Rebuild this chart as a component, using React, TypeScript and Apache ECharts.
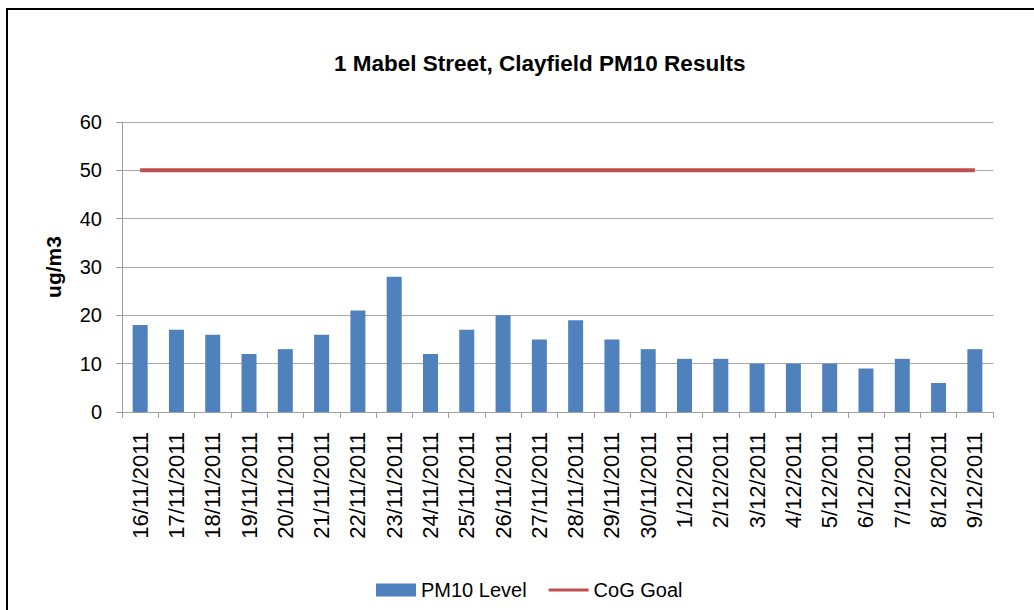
import React, { useEffect, useRef } from "react";
import * as echarts from "echarts";

const categories = [
  "16/11/2011", "17/11/2011", "18/11/2011", "19/11/2011", "20/11/2011", "21/11/2011",
  "22/11/2011", "23/11/2011", "24/11/2011", "25/11/2011", "26/11/2011", "27/11/2011",
  "28/11/2011", "29/11/2011", "30/11/2011", "1/12/2011", "2/12/2011", "3/12/2011",
  "4/12/2011", "5/12/2011", "6/12/2011", "7/12/2011", "8/12/2011", "9/12/2011",
];
const pm10Level = [18, 17, 16, 12, 13, 16, 21, 28, 12, 17, 20, 15, 19, 15, 13, 11, 11, 10, 10, 10, 9, 11, 6, 13];
const cogGoal = [50, 50, 50, 50, 50, 50, 50, 50, 50, 50, 50, 50, 50, 50, 50, 50, 50, 50, 50, 50, 50, 50, 50, 50];

const FONT = "'Liberation Sans', Arial, sans-serif";

export default function App() {
  const ref = useRef<HTMLDivElement>(null);
  useEffect(() => {
    document.body.style.margin = "0";
    const chart = echarts.init(ref.current!, null, { renderer: "svg" });
    chart.setOption({
      animation: false,
      backgroundColor: "#ffffff",
      textStyle: { fontFamily: FONT },
      title: {
        text: "1 Mabel Street, Clayfield PM10 Results",
        left: 329,
        top: 47,
        textStyle: { fontSize: 22.5, fontWeight: "bold", color: "#000", fontFamily: FONT },
      },
      graphic: [
        { type: "rect", shape: { x: 6, y: 8, width: 1030, height: 2 }, style: { fill: "#000" } },
        { type: "rect", shape: { x: 6, y: 8, width: 2, height: 604 }, style: { fill: "#000" } },
      ],
      legend: {
        left: 371,
        top: 575,
        itemWidth: 40,
        itemHeight: 13,
        itemGap: 22,
        textStyle: { fontSize: 20, color: "#000", fontFamily: FONT },
        data: [
          { name: "PM10 Level", icon: "rect" },
          { name: "CoG Goal", icon: "path://M0,0 L40,0 L40,3 L0,3 Z", itemStyle: { color: "#C0504D" } },
        ],
      },
      grid: { left: 122, right: 41, top: 122, bottom: 198, containLabel: false },
      xAxis: {
        type: "category",
        data: categories,
        boundaryGap: true,
        axisLine: { lineStyle: { color: "#A0A0A0", width: 1 } },
        axisTick: { show: true, length: 6, interval: 0, lineStyle: { color: "#A0A0A0" } },
        axisLabel: { rotate: 90, interval: 0, fontSize: 22, color: "#000", margin: 20, fontFamily: FONT },
      },
      yAxis: {
        type: "value",
        min: 0,
        max: 60,
        interval: 10,
        name: "ug/m3",
        nameLocation: "middle",
        nameRotate: 90,
        nameGap: 58,
        nameTextStyle: { fontSize: 21, fontWeight: "bold", color: "#000", fontFamily: FONT },
        axisLine: { show: true, lineStyle: { color: "#A0A0A0", width: 1 } },
        axisTick: { show: true, length: 6, lineStyle: { color: "#A0A0A0" } },
        axisLabel: { fontSize: 20, color: "#000", margin: 20, fontFamily: FONT },
        splitLine: { show: true, lineStyle: { color: "#A8A8A8", width: 1 } },
      },
      series: [
        {
          name: "PM10 Level",
          type: "bar",
          data: pm10Level,
          barWidth: 15,
          itemStyle: { color: "#4F81BD" },
        },
        {
          name: "CoG Goal",
          type: "line",
          data: cogGoal,
          symbol: "none",
          lineStyle: { color: "#C0504D", width: 4 },
          itemStyle: { color: "#C0504D" },
        },
      ],
    });
    return () => chart.dispose();
  }, []);
  return <div ref={ref} style={{ width: 1034, height: 610 }} />;
}
